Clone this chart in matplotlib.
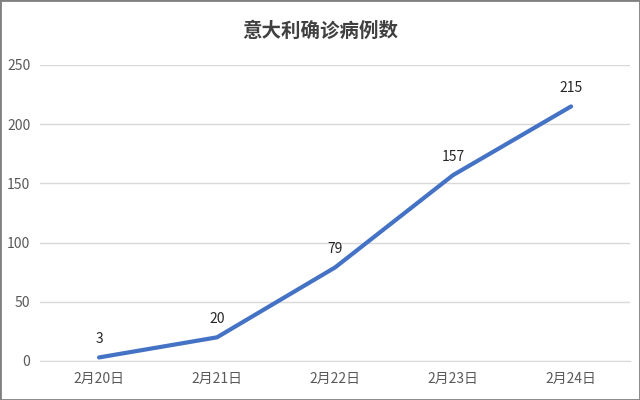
import matplotlib.pyplot as plt
from matplotlib.patches import Rectangle

plt.rcParams["font.family"] = ["Noto Sans CJK SC", "DejaVu Sans"]

dates = ["2月20日", "2月21日", "2月22日", "2月23日", "2月24日"]
cases = [3, 20, 79, 157, 215]
yticks = [0, 50, 100, 150, 200, 250]

fig = plt.figure(figsize=(6.4, 4.0), dpi=100)
ax = fig.add_axes([0.0625, 0.0975, 0.922, 0.74])

x = range(len(dates))
ax.plot(x, cases, color="#4472C4", lw=3, solid_capstyle="round", zorder=3)
for xi, v in zip(x, cases):
    ax.annotate(str(v), (xi, v), xytext=(0, 8), textcoords="offset points",
                ha="center", va="bottom", fontsize=10, color="#262626")

ax.set_xlim(-0.5, len(dates) - 0.5)
ax.set_ylim(0, 250)
ax.set_yticks(yticks)
ax.set_xticks(list(x))
ax.set_xticklabels(dates)
ax.grid(axis="y", color="#D9D9D9", lw=1)
ax.set_axisbelow(True)
for s in ["top", "right", "left"]:
    ax.spines[s].set_visible(False)
ax.spines["bottom"].set_color("#D9D9D9")
ax.tick_params(length=0, labelsize=10, colors="#595959", pad=8)
ax.tick_params(axis="y", pad=7)

fig.text(0.5, 0.922, "意大利确诊病例数", ha="center", va="center",
         fontsize=14, fontweight="bold", color="#404040")

fig.patches.append(Rectangle((0, 0), 1, 1, transform=fig.transFigure,
                             fill=False, edgecolor="#808080", lw=2))

fig.savefig("out.png", dpi=100)
